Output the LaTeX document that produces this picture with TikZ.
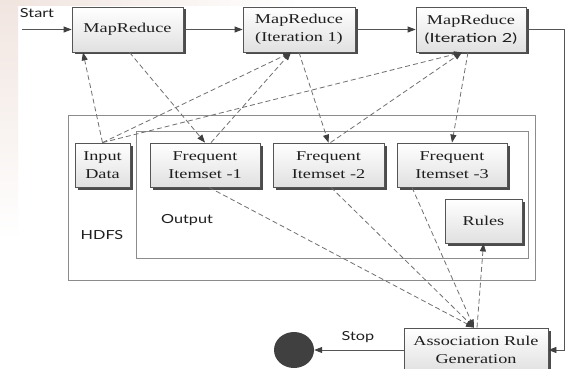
\documentclass[tikz,border=0pt]{standalone}
\usepackage{fontspec}
\setmainfont{Liberation Serif}
\newfontfamily\boxfont[FakeStretch=1.35]{Liberation Serif}
\newfontfamily\labfont[FakeStretch=1.3]{Lato}
\newfontfamily\iterfont[FakeStretch=1.45]{Lato}
\usetikzlibrary{arrows.meta,shadows,shapes.geometric}

\definecolor{boxline}{HTML}{555555}
\definecolor{inkgray}{HTML}{1E1E1E}
\definecolor{dashgray}{HTML}{707070}
\definecolor{tipgray}{HTML}{404040}
\definecolor{tint}{HTML}{F1E5E0}

\begin{document}
\begin{tikzpicture}[x=1pt,y=-1pt,
  box/.style={draw=boxline, line width=0.8pt, top color=white, bottom color=black!12,
    inner sep=0pt, align=center, text=inkgray,
    font=\boxfont\fontsize{13.5}{18}\selectfont,
    drop shadow={shadow xshift=2.5pt, shadow yshift=-2.5pt, fill=black!70, opacity=1}},
  flow/.style={draw=boxline, line width=0.8pt,
    -{Triangle[length=8pt,width=6pt,fill=tipgray,color=tipgray]}},
  link/.style={draw=dashgray, line width=0.8pt, dash pattern=on 5pt off 3pt,
    -{Triangle[length=8pt,width=6pt,fill=tipgray,color=tipgray]}},
  container/.style={draw=black!45, line width=0.9pt},
  lbl/.style={font=\labfont\fontsize{12.5}{15}\selectfont, text=inkgray, inner sep=0pt}]

\clip (0,0) rectangle (570,369);
\fill[white] (0,0) rectangle (570,369);
% faint paper tone along the top-left edges
\shade[top color=tint, bottom color=white] (0,0) rectangle (18,240);
\shade[left color=tint, right color=white] (18,0) rectangle (300,6);

% HDFS storage and its output area
\draw[container] (68,115) rectangle (535,280);
\draw[container] (136,131) rectangle (528,258);

% MapReduce chain
\node[box, minimum width=111pt, minimum height=45pt] (mr0) at (127.5,29.5) {MapReduce};
\node[box, minimum width=112pt, minimum height=45pt] (mr1) at (299,29.5) {MapReduce\\(Iteration 1)};
\node[box, minimum width=110pt, minimum height=45pt] (mr2) at (471,29.5)
  {MapReduce\\{\iterfont\fontsize{12.5}{18}\selectfont (Iteration 2)}};

% data held in HDFS
\node[box, minimum width=55pt, minimum height=44pt] (in) at (102.5,165) {Input\\Data};
\node[box, minimum width=110pt, minimum height=44pt] (f1) at (205,165) {Frequent\\Itemset -1};
\node[box, minimum width=111pt, minimum height=44pt] (f2) at (328.5,165) {Frequent\\Itemset -2};
\node[box, minimum width=110pt, minimum height=44pt] (f3) at (452,165) {Frequent\\Itemset -3};
\node[box, minimum width=77pt, minimum height=44pt] (rules) at (483.5,221) {Rules};

% rule generation and end state
\node[box, minimum width=144pt, minimum height=44pt] (arg) at (476,350) {Association Rule\\Generation};
\node[ellipse, fill=black!75, minimum width=40pt, minimum height=36pt, inner sep=0pt] (end) at (294,350) {};

% labels
\node[lbl] (start) at (37,13) {Start};
\node[lbl] (stop) at (358,337) {Stop};
\node[lbl] (hdfs) at (102,235) {HDFS};
\node[lbl] (out) at (187,220) {Output};

% control flow
\coordinate (entry) at (22,29.5);
\draw[flow] (entry) -- (mr0.west);
\draw[flow] (mr0.east) -- (mr1.west);
\draw[flow] (mr1.east) -- (mr2.west);
\draw[flow] (mr2.east) -- ++(38,0) |- (arg.east);
\draw[flow] (arg.west) -- (end.east);

% data flow
\draw[link] (in.north) -- ([xshift=-44.5pt]mr0.south);
\draw[link] (in.north) -- ([xshift=-8pt]mr1.south);
\draw[link] (in.north) -- ([xshift=-9pt]mr2.south);
\draw[link] ([xshift=2pt]mr0.south) -- (f1.north);
\draw[link] ([xshift=6pt]f1.north) -- ([xshift=-8pt]mr1.south);
\draw[link] (mr1.south) -- (f2.north);
\draw[link] ([xshift=2pt]f2.north) -- ([xshift=-9pt]mr2.south);
\draw[link] ([xshift=-3pt]mr2.south) -- (f3.north);
\draw[link] ([xshift=4pt]f1.south) -- ([xshift=-2pt]arg.north);
\draw[link] ([xshift=2.5pt]f2.south) -- ([xshift=-2pt]arg.north);
\draw[link] ([xshift=-40pt]f3.south) -- ([xshift=-2pt]arg.north);
\draw[link] ([xshift=1pt]arg.north) -- (rules.south);
\end{tikzpicture}
\end{document}
